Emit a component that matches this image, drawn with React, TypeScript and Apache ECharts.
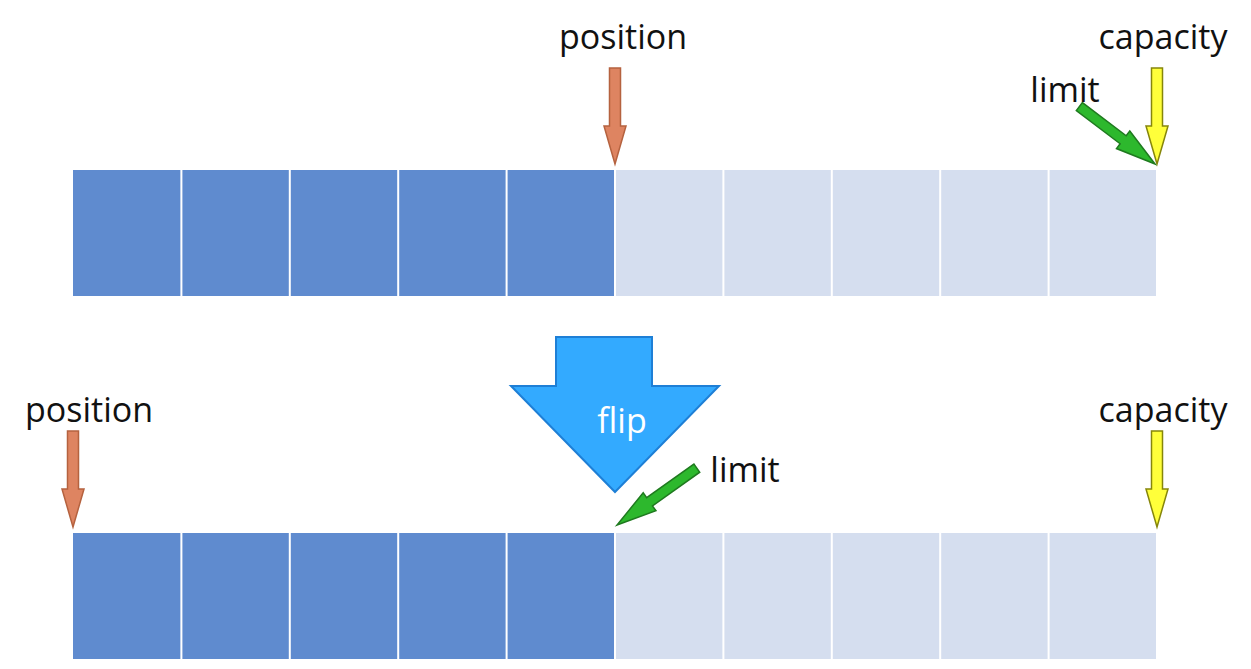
import React, { useEffect, useRef } from 'react';
import * as echarts from 'echarts';

// buffer state before / after flip
const cellCount = 10;
const rowTops = [170, 533];
const rowHeight = 126;
const filledCells = [5, 5];
// pointers: [row, cellIndex, kind, label, labelDx, labelDy]
const pointers: [number, number, string, string, number, number][] = [
  [0, 5, 'position', 'position', 8, -128],
  [0, 10, 'capacity', 'capacity', 6, -128],
  [0, 10, 'limitL', 'limit', -92, -75],
  [1, 0, 'position', 'position', 16, -118],
  [1, 10, 'capacity', 'capacity', 6, -118],
  [1, 5, 'limitR', 'limit', 130, -58],
];

const styles: Record<string, { fill: string; stroke: string }> = {
  position: { fill: '#DE8461', stroke: '#B5623F' },
  capacity: { fill: '#FFFF3A', stroke: '#86860A' },
  limitL: { fill: '#2DB82D', stroke: '#1F7A1F' },
  limitR: { fill: '#2DB82D', stroke: '#1F7A1F' },
};

function arrowPoints(tx: number, ty: number, dx: number, dy: number, len: number, shaft: number, head: number, headLen: number) {
  const n = Math.hypot(dx, dy);
  const ux = dx / n, uy = dy / n; // from tip to tail
  const px = -uy, py = ux;
  const at = (a: number, b: number) => [tx + ux * a + px * b, ty + uy * a + py * b];
  return [
    at(0, 0), at(headLen, head / 2), at(headLen, shaft / 2), at(len, shaft / 2),
    at(len, -shaft / 2), at(headLen, -shaft / 2), at(headLen, -head / 2),
  ];
}

const App: React.FC = () => {
  const ref = useRef<HTMLDivElement | null>(null);
  useEffect(() => {
    if (!ref.current) return;
    const chart = echarts.init(ref.current, null, { renderer: 'svg' });
    const cellData: number[][] = [];
    rowTops.forEach((_, r) => {
      for (let i = 0; i < cellCount; i++) cellData.push([i, r, i < filledCells[r] ? 1 : 0]);
    });
    const font = '"Open Sans", "Noto Sans", sans-serif';
    chart.setOption({
      animation: false,
      grid: { left: 73, right: 94, top: 0, bottom: 0 },
      xAxis: { type: 'value', min: 0, max: cellCount, show: false },
      yAxis: { type: 'value', min: 0, max: 669, inverse: true, show: false },
      series: [
        {
          type: 'custom',
          data: cellData,
          renderItem: (_p: any, api: any) => {
            const i = api.value(0), r = api.value(1);
            const a = api.coord([i, rowTops[r]]);
            const b = api.coord([i + 1, rowTops[r] + rowHeight]);
            return {
              type: 'rect',
              shape: { x: a[0] + (i > 0 ? 1 : 0), y: a[1], width: b[0] - a[0] - (i > 0 ? 2 : 1), height: b[1] - a[1] },
              style: { fill: api.value(2) ? '#5F8BCF' : '#D5DEEF' },
            };
          },
        },
        {
          type: 'custom',
          data: pointers.map((p, k) => [p[1], p[0], k]),
          renderItem: (_p: any, api: any) => {
            const p = pointers[api.value(2)];
            const [r, idx, kind, label, ldx, ldy] = p;
            const tip = api.coord([idx, rowTops[r] - 6]);
            let pts;
            if (kind === 'limitL') pts = arrowPoints(tip[0] - 2, tip[1], -75, -57, 95, 10, 22, 40);
            else if (kind === 'limitR') pts = arrowPoints(tip[0] + 2, tip[1] - 2, 80, -57, 98, 10, 22, 40);
            else pts = arrowPoints(tip[0], tip[1], 0, -1, 96, 11, 22, 38);
            const st = styles[kind];
            return {
              type: 'group',
              children: [
                { type: 'polygon', shape: { points: pts }, style: { fill: st.fill, stroke: st.stroke, lineWidth: 1.5 } },
                {
                  type: 'text', x: tip[0] + ldx, y: tip[1] + ldy,
                  style: { text: label, font: `34px ${font}`, fill: '#111', align: 'center', verticalAlign: 'middle' },
                },
              ],
            };
          },
        },
      ],
      graphic: [
        {
          type: 'polygon',
          shape: { points: [[556, 337], [652, 337], [652, 386], [719, 386], [615, 492], [511, 386], [556, 386]] },
          style: { fill: '#33AAFF', stroke: '#1E7FD6', lineWidth: 2 },
        },
        {
          type: 'text', x: 622, y: 420,
          style: { text: 'flip', font: `34px ${font}`, fill: '#fff', align: 'center', verticalAlign: 'middle' },
        },
      ],
    });
    return () => chart.dispose();
  }, []);
  return <div ref={ref} style={{ position: 'fixed', left: 0, top: 0, width: 1251, height: 669, background: '#fff' }} />;
};

export default App;
